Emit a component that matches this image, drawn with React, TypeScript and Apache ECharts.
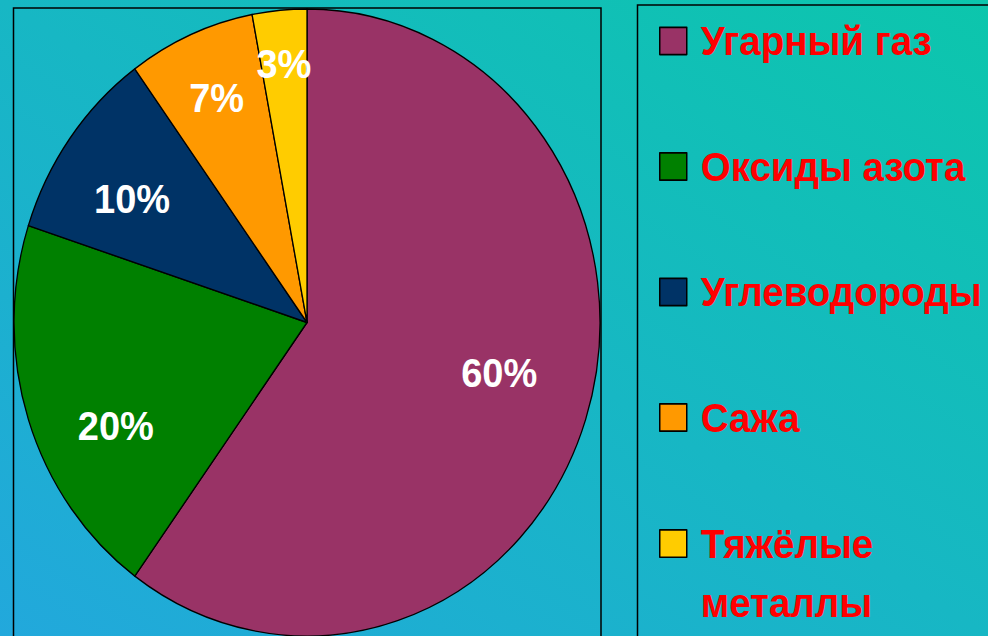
import React, { useEffect, useRef } from "react";
import * as echarts from "echarts";

const categories = ["Угарный газ", "Оксиды азота", "Углеводороды", "Сажа", "Тяжёлые металлы"];
const values = [60, 20, 10, 7, 3];
const colors = ["#993366", "#008000", "#003366", "#FF9900", "#FFCC00"];

// label nudges (px) away from the default mid-radius inside position
const labelShift = [
  [50, 1],
  [-49, 50],
  [-54, -28],
  [-31, -73],
  [-9, -93],
];

const SCALE_Y = 1.07;
const W = 988;
const H = 595;

export default function App() {
  const ref = useRef<HTMLDivElement>(null);

  useEffect(() => {
    const chart = echarts.init(ref.current as HTMLDivElement, null, { renderer: "svg" });
    const font = "'Liberation Sans', Arial, Helvetica, sans-serif";
    const legendText = {
      color: "#ff0000",
      fontSize: 38.5,
      fontWeight: "bold",
      fontFamily: font,
      padding: [0, 0, 0, 9],
    };
    const legendCommon = {
      orient: "vertical",
      left: 659,
      padding: 0,
      itemWidth: 27,
      itemHeight: 25.5,
      icon: "rect",
      selectedMode: false,
      itemStyle: { borderColor: "#000", borderWidth: 1.5 },
    };
    chart.setOption({
      animation: false,
      backgroundColor: new echarts.graphic.LinearGradient(0, 1, 1, 0, [
        { offset: 0, color: "#22a8dc" },
        { offset: 1, color: "#0cc6ac" },
      ]),
      graphic: [
        {
          type: "rect",
          z: 0,
          shape: { x: 13.5, y: 7.5, width: 587.5, height: 700 },
          style: { fill: "none", stroke: "#000", lineWidth: 1.5 },
          silent: true,
        },
        {
          type: "rect",
          z: 0,
          shape: { x: 637.5, y: 4.7, width: 400, height: 700 },
          style: { fill: "none", stroke: "#000", lineWidth: 1.5 },
          silent: true,
        },
      ],
      legend: [
        {
          ...legendCommon,
          top: 18.3,
          itemGap: 77.3,
          data: categories.slice(0, 4),
          textStyle: { ...legendText, lineHeight: 40 },
        },
        {
          ...legendCommon,
          top: 425.5,
          itemGap: 0,
          data: categories.slice(4),
          formatter: (n: string) => "\n" + n.replace(" ", "\n"),
          textStyle: { ...legendText, lineHeight: 55 },
        },
      ],
      series: [
        {
          type: "pie",
          center: [307, 301.4],
          radius: 293,
          startAngle: 90,
          clockwise: true,
          avoidLabelOverlap: false,
          data: categories.map((name, i) => ({
            name,
            value: values[i],
            itemStyle: { color: colors[i] },
          })),
          itemStyle: { borderColor: "#000", borderWidth: 1.3 },
          label: {
            show: true,
            position: "inside",
            formatter: "{c}%",
            color: "#ffffff",
            fontSize: 38,
            fontWeight: "bold",
            fontFamily: font,
          },
          labelLine: { show: false },
          labelLayout: (p: any) => ({
            dx: labelShift[p.dataIndex][0],
            dy: labelShift[p.dataIndex][1],
          }),
          emphasis: { disabled: true },
        },
      ],
    });
    return () => chart.dispose();
  }, []);

  return (
    <div
      style={{
        position: "fixed",
        left: 0,
        top: 0,
        width: W,
        height: 636,
        overflow: "hidden",
      }}
    >
      <div
        ref={ref}
        style={{
          width: W,
          height: H,
          transform: `scaleY(${SCALE_Y})`,
          transformOrigin: "0 0",
        }}
      />
    </div>
  );
}
